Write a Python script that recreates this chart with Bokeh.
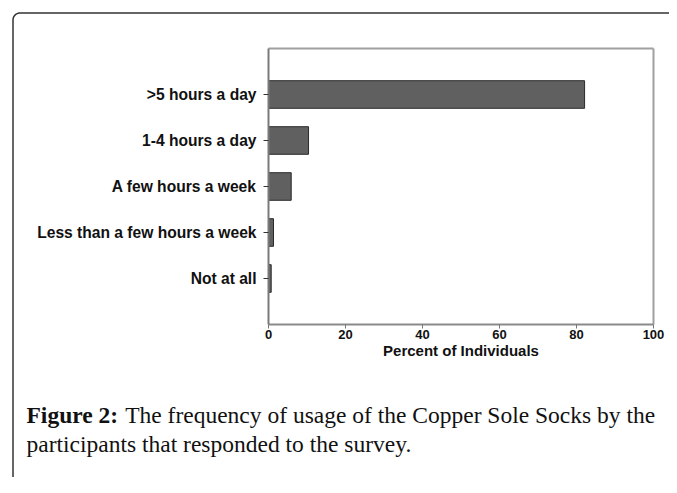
import numpy as np
from bokeh.plotting import figure
from bokeh.models import Range1d, FixedTicker, Label
from bokeh.embed import file_html
from bokeh.resources import INLINE

# ---- data ----
categories = ["Not at all", "Less than a few hours a week", "A few hours a week",
              "1-4 hours a day", ">5 hours a day"]
percent = [0.7, 1.3, 5.9, 10.4, 82.1]
x_ticks = [0, 20, 40, 60, 80, 100]
x_label = "Percent of Individuals"
caption_bold = "Figure 2:"
caption_line1 = "The frequency of usage of the Copper Sole Socks by the"
caption_line2 = "participants that responded to the survey."

positions = list(range(1, len(categories) + 1))
y_top = len(categories) + 1

# ---- layout (pixels) ----
W, H = 669, 477
FX0, FX1 = 268, 653      # plot area left/right in pixels
FY0, FY1 = 48, 324       # plot area top/bottom in pixels
ppx = (FX1 - FX0) / (x_ticks[-1] - x_ticks[0])
ppy = (FY1 - FY0) / y_top

x_range = Range1d(x_ticks[0] - FX0 / ppx, x_ticks[-1] + (W - FX1) / ppx)
y_range = Range1d(0 - (H - FY1) / ppy, y_top + FY0 / ppy)

p = figure(width=W, height=H, output_backend="svg", toolbar_location=None,
           x_range=x_range, y_range=y_range,
           min_border_left=0, min_border_right=0, min_border_top=0,
           min_border_bottom=0)
p.outline_line_color = None
p.xgrid.visible = False
p.ygrid.visible = False

# plot-area border (top and right, light gray)
p.segment(x0=[x_ticks[0], x_ticks[-1]], y0=[y_top, 0],
          x1=[x_ticks[-1], x_ticks[-1]], y1=[y_top, y_top],
          line_color="#a0a0a0", line_width=2)

p.hbar(y=positions, right=percent, left=0, height=0.6,
       fill_color="#606060", line_color="#2b2b2b", line_width=1)

# y axis
ya = p.yaxis[0]
ya.fixed_location = 0
ya.bounds = (0, y_top)
ya.ticker = FixedTicker(ticks=positions)
ya.major_label_overrides = {pos: c for pos, c in zip(positions, categories)}
ya.major_label_text_font = "Liberation Sans"
ya.major_label_text_font_style = "bold"
ya.major_label_text_font_size = "15.6px"
ya.major_label_text_color = "#111111"
ya.major_tick_out = 5
ya.major_tick_in = 0
ya.minor_tick_out = 0
ya.minor_tick_in = 0
ya.major_tick_line_color = "#333333"
ya.axis_line_color = "#7a7a7a"
ya.axis_line_width = 2
ya.major_label_standoff = 7

# x axis
xa = p.xaxis[0]
xa.fixed_location = 0
xa.bounds = (x_ticks[0], x_ticks[-1])
xa.ticker = FixedTicker(ticks=x_ticks)
xa.major_label_text_font = "Liberation Sans"
xa.major_label_text_font_style = "bold"
xa.major_label_text_font_size = "13px"
xa.major_label_text_color = "#111111"
xa.major_tick_out = 4
xa.major_tick_in = 0
xa.minor_tick_out = 0
xa.minor_tick_in = 0
xa.major_tick_line_color = "#777777"
xa.axis_line_color = "#8a8a8a"
xa.axis_line_width = 2
xa.major_label_standoff = 1
xa.axis_label = x_label
xa.axis_label_text_font = "Liberation Sans"
xa.axis_label_text_font_style = "bold"
xa.axis_label_text_font_size = "15px"
xa.axis_label_text_color = "#111111"
xa.axis_label_standoff = 0

# rounded page frame (top + left edges), built in pixels then mapped to data
bx, by, r = 12.5, 12.5, 7.0
ang = np.linspace(np.pi, 1.5 * np.pi, 20)
px = np.concatenate([[bx], bx + r + r * np.cos(ang), [W + 10]])
py = np.concatenate([[H + 10], by + r + r * np.sin(ang), [by]])
p.line(x=x_ticks[0] + (px - FX0) / ppx, y=y_top - (py - FY0) / ppy,
       line_color="#333333", line_width=1.5)

# caption
cap_size = 23.5
cap_x = 26
base1, base2 = 414, 443
l1 = Label(x=cap_x, y=H - base1, x_units="screen", y_units="screen",
           text=caption_bold, text_font="Liberation Serif", text_font_style="bold",
           text_font_size=f"{cap_size}px", text_color="#111111",
           text_baseline="alphabetic")
l2 = Label(x=cap_x + 4.2 * cap_size, y=H - base1, x_units="screen",
           y_units="screen", text=caption_line1, text_font="Liberation Serif",
           text_font_size=f"{cap_size}px", text_color="#111111",
           text_baseline="alphabetic")
l3 = Label(x=cap_x, y=H - base2, x_units="screen", y_units="screen",
           text=caption_line2, text_font="Liberation Serif",
           text_font_size=f"{cap_size}px", text_color="#111111",
           text_baseline="alphabetic")
for lab in (l1, l2, l3):
    p.add_layout(lab)

open("out.html", "w").write(file_html(p, INLINE))
